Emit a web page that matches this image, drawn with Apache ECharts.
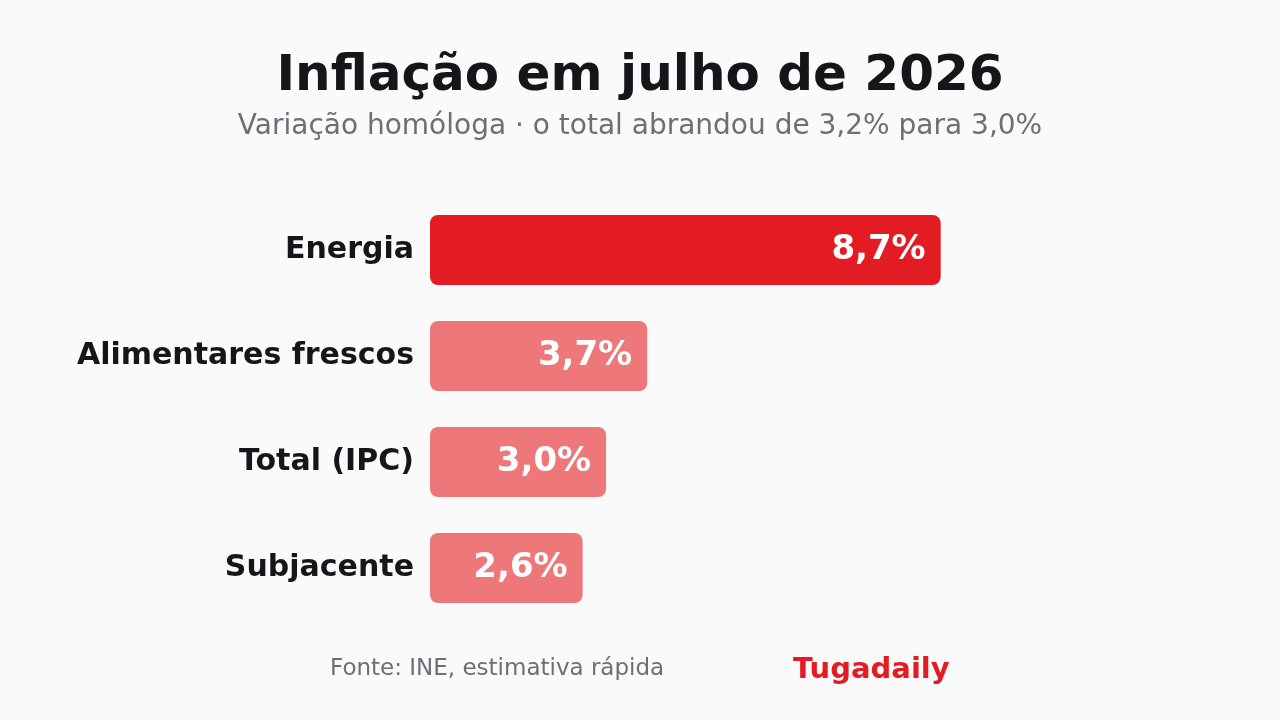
<!DOCTYPE html>
<html>
<head>
<meta charset="utf-8">
<title>Inflação em julho de 2026</title>
<script src="https://cdn.jsdelivr.net/npm/echarts@6/dist/echarts.min.js"></script>
<style>
  html, body { margin: 0; padding: 0; background: #fafafa; }
  #chart { width: 1280px; height: 720px; }
</style>
</head>
<body>
<div id="chart"></div>
<script>
// dados (variação homóloga, %)
const categorias = ['Energia', 'Alimentares frescos', 'Total (IPC)', 'Subjacente']
const valores = [8.7, 3.7, 3.0, 2.6]
const destaque = 'Energia'

const FONT = 'DejaVu Sans'
const VERMELHO = '#e31c24'
const ROSA = '#ee777a'

const chart = echarts.init(document.getElementById('chart'))

const option = {
  backgroundColor: '#fafafa',
  animation: false,
  title: [
    {
      text: 'Inflação em julho de 2026',
      left: 'center',
      top: 47,
      textStyle: { fontFamily: FONT, fontSize: 50, fontWeight: 'bold', color: '#16161a' }
    },
    {
      text: 'Variação homóloga · o total abrandou de 3,2% para 3,0%',
      left: 'center',
      top: 108,
      textStyle: { fontFamily: FONT, fontSize: 28, fontWeight: 'normal', color: '#6e6e78' }
    },
    {
      // rodapé
      text: 'Fonte: INE, estimativa rápida',
      left: 325,
      top: 653,
      textStyle: { fontFamily: FONT, fontSize: 23, fontWeight: 'normal', color: '#6e6e78' }
    },
    {
      text: 'Tugadaily',
      left: 788,
      top: 651,
      textStyle: { fontFamily: FONT, fontSize: 29, fontWeight: 'bold', color: VERMELHO }
    }
  ],
  grid: { left: 430, top: 197, width: 587, height: 424 },
  xAxis: {
    type: 'value',
    min: 0,
    max: 10,
    show: false
  },
  yAxis: {
    type: 'category',
    inverse: true,
    data: categorias,
    axisLine: { show: false },
    axisTick: { show: false },
    axisLabel: {
      margin: 16,
      fontFamily: FONT,
      fontSize: 30,
      fontWeight: 'bold',
      color: '#16161a'
    }
  },
  series: [
    {
      type: 'bar',
      barWidth: 70,
      data: valores.map((v, i) => ({
        value: v,
        itemStyle: { color: categorias[i] === destaque ? VERMELHO : ROSA }
      })),
      itemStyle: { borderRadius: 8 },
      label: {
        show: true,
        position: 'insideRight',
        distance: 15,
        formatter: p => p.value.toFixed(1).replace('.', ',') + '%',
        fontFamily: FONT,
        fontSize: 34,
        fontWeight: 'bold',
        color: '#ffffff'
      }
    }
  ]
}

chart.setOption(option)
</script>
</body>
</html>
